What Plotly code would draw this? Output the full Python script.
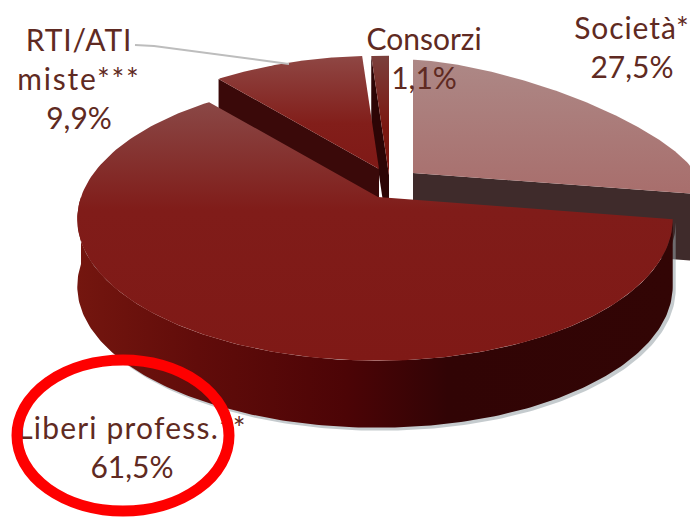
import numpy as np
import plotly.graph_objects as go

# Data
categories = [["Società*"], ["Liberi profess.**"], ["RTI/ATI", "miste***"], ["Consorzi"]]
shares = [27.5, 61.5, 9.9, 1.1]

# Drawing style of each slice (same order as the data)
apex_x = [413, 378, 379, 389]
apex_y = [173, 197, 169, 175]
slice_scale = [0.95, 1.0, 0.95, 1.0]
arc_power = [1.33, 1.0, 1.0, 1.0]
right_squeeze = [1.0, 0.98, 1.0, 1.0]
top_colors = [
    [[0, "#ad8886"], [1, "#a86e6c"]],
    [[0, "#8a4846"], [0.42, "#801c19"], [1, "#7f1916"]],
    [[0, "#8f4744"], [0.6, "#821e1a"], [1, "#7f1916"]],
    [[0, "#7b403c"], [0.6, "#7b1710"], [1, "#7b1710"]],
]
wall_colors = ["#3f2b2b", None, "#3a0909", "#2d0505"]
liberi_wall = [[0, "#74160f"], [0.2, "#610c0a"], [0.45, "#4c0406"],
               [0.62, "#310405"], [1, "#320505"]]
label_x = [632, 132, 79, 424]
label_y = [51, 451, 82, 62]
letter_spacing = [[0.9], [1.2], [0.9, 1.8], [0]]

RADIUS, K, P, DEPTH = 297, 138, 0.157, 67
TEXT_COLOR = "#5f2a22"
FONT = "Lato"


def project(theta_deg, i):
    t = np.radians(theta_deg)
    u, v = np.sin(t), np.cos(t)
    first_quadrant = (u > 0) & (v > 0)
    u = np.where(first_quadrant, np.abs(u) ** arc_power[i], u)
    v = np.where(first_quadrant, np.abs(v) ** arc_power[i], v)
    u = np.where(u > 0, u * right_squeeze[i], u)
    s = 1 + P * v
    return slice_scale[i] * RADIUS * u / s, -slice_scale[i] * K * v / s


def add_poly(fig, xs, ys, color=None, gradient=None):
    kw = dict(x=list(xs), y=list(ys), mode="lines", fill="toself",
              line=dict(width=0), hoverinfo="skip", showlegend=False)
    if gradient is not None:
        kw["fillgradient"] = gradient
        kw["fillcolor"] = "rgba(0,0,0,0)"
    else:
        kw["fillcolor"] = color
    fig.add_trace(go.Scatter(**kw))


edges = np.concatenate([[0], np.cumsum(shares) * 3.6])
edges[-1] = 360.0
fig = go.Figure()

# Back-to-front painting order: Società, Consorzi, RTI/ATI, Liberi
for i in [0, 3, 2, 1]:
    a0, a1 = edges[i], edges[i + 1]
    th = np.linspace(a0, a1, 160)
    dx, dy = project(th, i)
    cx, cy = apex_x[i], apex_y[i]
    ax_, ay_ = cx + dx, cy + dy

    if i == 1:
        wall_th = np.linspace(a0, 270, 200)
        wx, wy = project(wall_th, i)
        wx, wy = cx + wx, cy + wy
        # soft drop shadow
        sx = np.concatenate([wx + 3, (wx + 3)[::-1]])
        sy = np.concatenate([wy + 3, (wy + DEPTH + 3)[::-1]])
        add_poly(fig, sx, sy, color="rgba(150,160,165,0.55)")
        px = np.concatenate([wx, wx[::-1]])
        py = np.concatenate([wy, (wy + DEPTH)[::-1]])
        add_poly(fig, px, py, gradient=dict(type="horizontal", colorscale=liberi_wall,
                                            start=77, stop=675))
    else:
        # the radial cut that faces the viewer
        k = 0 if i in (2, 3) else -1
        ex, ey = ax_[k], ay_[k]
        add_poly(fig, [cx, ex, ex, cx], [cy, ey, ey + DEPTH, cy + DEPTH],
                 color=wall_colors[i])

    add_poly(fig, np.r_[cx, ax_, cx], np.r_[cy, ay_, cy],
             gradient=dict(type="vertical", colorscale=top_colors[i],
                           start=float(ay_.min()), stop=float(max(ay_.max(), cy))))

# Leader line of RTI/ATI
fig.add_trace(go.Scatter(x=[135, 154, 289], y=[45, 46, 64], mode="lines",
                         line=dict(color="#bdbdbd", width=2),
                         hoverinfo="skip", showlegend=False))

# Labels
labels = []
for lines, spacing, v in zip(categories, letter_spacing, shares):
    parts = [f'<span style="letter-spacing:{sp}px">{ln}</span>' for ln, sp in zip(lines, spacing)]
    parts.append(f"{str(v).replace('.', ',')}%")
    labels.append("<br>".join(parts))
fig.add_trace(go.Scatter(x=label_x, y=label_y, text=labels, mode="text",
                         textposition="middle center",
                         textfont=dict(family=FONT, size=30, color=TEXT_COLOR),
                         hoverinfo="skip", showlegend=False, cliponaxis=False))

fig.update_layout(
    width=690, height=517, margin=dict(l=0, r=0, t=0, b=0),
    paper_bgcolor="white", plot_bgcolor="white",
    xaxis=dict(range=[0, 690], visible=False, fixedrange=True),
    yaxis=dict(range=[517, 0], visible=False, fixedrange=True),
    shapes=[dict(type="circle", xref="x", yref="y", x0=17, x1=229, y0=360, y1=511,
                 line=dict(color="#fe0000", width=11), layer="above")],
)
fig.write_html("out.html", config={"displayModeBar": False},
               post_script="document.body.style.margin='0';document.documentElement.style.overflow='hidden';")
